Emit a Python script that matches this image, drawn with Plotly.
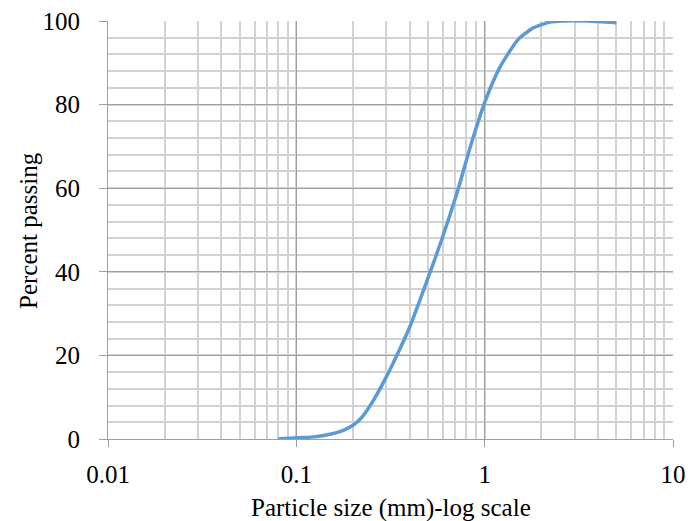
import plotly.graph_objects as go

particle_size = [0.08, 0.1, 0.12, 0.14, 0.16, 0.18, 0.2, 0.22, 0.25, 0.3, 0.35, 0.4, 0.5, 0.6, 0.72, 0.84, 1.0, 1.2, 1.5, 1.8, 2.2, 2.6, 3.5, 5.0]
percent_passing = [0, 0.3, 0.45, 0.85, 1.4, 2.2, 3.3, 4.9, 8.4, 14.8, 21, 26.8, 38.5, 48.5, 59.5, 70, 80.5, 88.8, 95.5, 98.3, 99.7, 100, 100, 99.6]

x_tickvals = [0.01, 0.1, 1, 10]
x_ticktext = ["0.01", "0.1", "1", "10"]
y_tickvals = [0, 20, 40, 60, 80, 100]
x_title = "Particle size (mm)-log scale"
y_title = "Percent passing"

fig = go.Figure()
fig.add_trace(go.Scatter(
    x=particle_size, y=percent_passing, mode="lines",
    line=dict(color="#5b9bd5", width=3.5, shape="spline", smoothing=0.6),
    showlegend=False, hoverinfo="skip",
))

font = dict(family="Liberation Serif, Times New Roman, serif", size=25, color="#000000")

fig.update_layout(
    width=688, height=521,
    margin=dict(l=108, r=15, t=21, b=82, autoexpand=False),
    paper_bgcolor="white", plot_bgcolor="white",
    font=font,
    xaxis=dict(
        type="log", range=[-2, 1],
        tickvals=x_tickvals, ticktext=x_ticktext,
        showgrid=True, gridcolor="#a0a0a0", gridwidth=1,
        minor=dict(dtick="D1", showgrid=True, gridcolor="#d2d2d2", gridwidth=1.5),
        showline=True, linecolor="#a0a0a0", linewidth=1,
        ticks="outside", ticklen=7, tickcolor="#a0a0a0",
        ticklabelstandoff=6,
        automargin=False, zeroline=False,
    ),
    yaxis=dict(
        range=[0, 100],
        tickvals=y_tickvals,
        showgrid=True, gridcolor="#a0a0a0", gridwidth=1,
        minor=dict(dtick=4, tick0=0, showgrid=True, gridcolor="#d2d2d2", gridwidth=1.5),
        showline=True, linecolor="#a0a0a0", linewidth=1,
        ticks="outside", ticklen=8, tickcolor="#a0a0a0",
        ticklabelstandoff=14,
        automargin=False, zeroline=False,
    ),
    annotations=[
        dict(text=x_title, xref="paper", yref="paper", x=0.5, y=-0.165,
             xanchor="center", yanchor="middle", showarrow=False, font=font),
        dict(text=y_title, xref="paper", yref="paper", x=-0.1416, y=0.5,
             xanchor="center", yanchor="middle", textangle=-90, showarrow=False, font=font),
    ],
)

fig.write_html(
    "out.html",
    config={"displayModeBar": False},
    post_script="document.body.style.margin='0';document.body.style.overflow='hidden';",
)
